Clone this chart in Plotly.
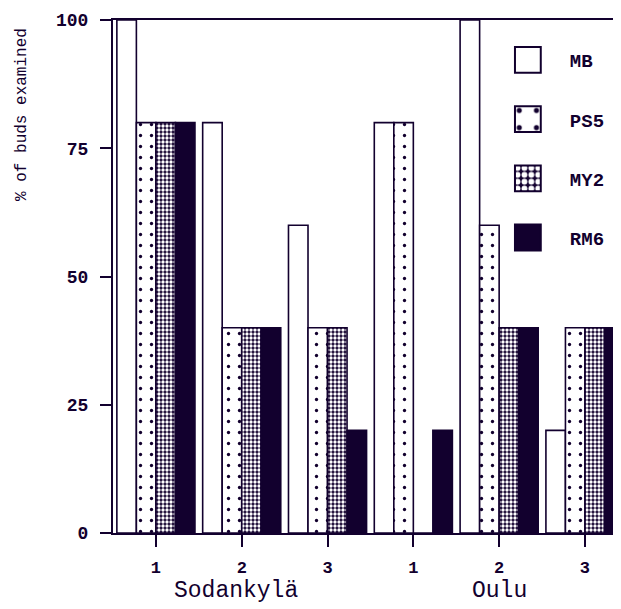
import plotly.graph_objects as go

# ---- data ----
sites = ["Sodankylä", "Sodankylä", "Sodankylä", "Oulu", "Oulu", "Oulu"]
clone_labels = ["1", "2", "3", "1", "2", "3"]
series_names = ["MB", "PS5", "MY2", "RM6"]
mb = [100, 80, 60, 80, 100, 20]
ps5 = [80, 40, 40, 80, 60, 40]
my2 = [80, 40, 40, 0, 40, 40]
rm6 = [80, 40, 20, 20, 40, 40]
y_ticks = [0, 25, 50, 75, 100]

DARK = "#12002e"
FONT = "Liberation Mono"

x_idx = list(range(len(clone_labels)))

styles = {
    "MB": dict(color="white"),
    "PS5": dict(color="white", pattern=dict(shape=".", size=11, solidity=0.07,
                                             fgcolor=DARK, bgcolor="white", fillmode="replace")),
    "MY2": dict(color=DARK, pattern=dict(shape=".", size=4, solidity=0.55,
                                          fgcolor="white", bgcolor=DARK, fillmode="replace")),
    "RM6": dict(color=DARK),
}

fig = go.Figure()
for i, (name, vals) in enumerate(zip(series_names, [mb, ps5, my2, rm6])):
    m = dict(styles[name])
    m["line"] = dict(color=DARK, width=1.6)
    fig.add_trace(go.Bar(x=x_idx, y=vals, name=name, marker=m, legendgroup=name))

# group labels centred under each site's categories
annotations = []
seen = []
for s in sites:
    if s not in seen:
        seen.append(s)
label_shift = {"Sodankylä": -6, "Oulu": 0}
for s in seen:
    idxs = [i for i, v in enumerate(sites) if v == s]
    annotations.append(dict(x=sum(idxs) / len(idxs), y=-0.113, xref="x", yref="paper",
                            xshift=label_shift.get(s, 0),
                            text=s, showarrow=False, xanchor="center", yanchor="middle",
                            font=dict(family=FONT, size=23, color=DARK)))
annotations.append(dict(x=-0.179, y=0.815, xref="paper", yref="paper",
                        text="% of buds examined", textangle=-90, showarrow=False,
                        xanchor="center", yanchor="middle",
                        font=dict(family=FONT, size=16, color=DARK)))

fig.update_layout(
    width=613, height=601,
    margin=dict(l=105, r=0, t=12, b=76, autoexpand=False),
    paper_bgcolor="white", plot_bgcolor="white",
    barmode="group", bargap=0.09, bargroupgap=0,
    font=dict(family=FONT, color=DARK),
    showlegend=True,
    legend=dict(x=0.734, y=0.959, xanchor="left", yanchor="top",
                bgcolor="rgba(0,0,0,0)",
                traceorder="grouped", tracegroupgap=31.5, itemwidth=74,
                font=dict(family=FONT, size=19, color=DARK, weight="bold")),
    annotations=annotations,
)
fig.update_xaxes(range=[-0.5, 5.42], tickmode="array", tickvals=x_idx,
                 ticktext=clone_labels,
                 ticks="outside", ticklen=12, tickwidth=2, tickcolor=DARK,
                 showline=True, linecolor=DARK, linewidth=2, mirror=True,
                 showgrid=False, zeroline=False, ticklabelstandoff=6,
                 tickfont=dict(family=FONT, size=17, color=DARK, weight="bold"))
fig.update_yaxes(range=[0, 100], tickmode="array", tickvals=y_ticks,
                 ticktext=[str(v) for v in y_ticks],
                 ticks="outside", ticklen=11, tickwidth=2, tickcolor=DARK,
                 showline=True, linecolor=DARK, linewidth=2,
                 showgrid=False, zeroline=False, ticklabelstandoff=8,
                 tickfont=dict(family=FONT, size=18, color=DARK, weight="bold"))

# enlarge legend swatches to the reference's large squares (keep existing transform)
post = ("document.querySelectorAll('.legend').forEach(function(l){"
        "l.querySelectorAll('[clip-path]').forEach(function(c){c.removeAttribute('clip-path');});});"
        "document.querySelectorAll('.legendpoints path').forEach(function(p){"
        "var t=p.getAttribute('transform')||'';"
        "p.setAttribute('transform',t+' scale(2.15)');"
        "p.style.vectorEffect='non-scaling-stroke';p.style.strokeWidth='2px';});")
fig.write_html("out.html", post_script=post)
